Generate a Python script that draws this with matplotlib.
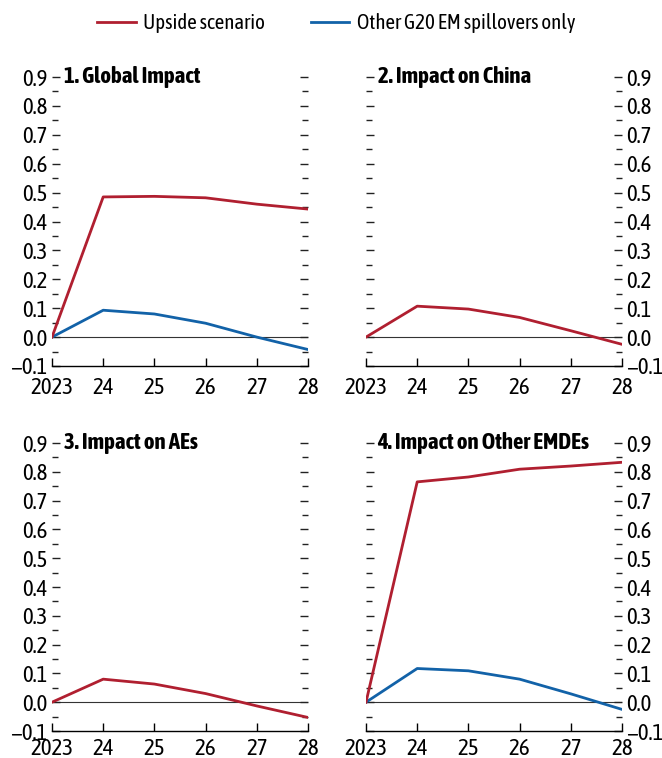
import matplotlib
matplotlib.use("Agg")
import matplotlib.pyplot as plt
from matplotlib import font_manager as fm
from matplotlib.ticker import MultipleLocator, FixedLocator
from matplotlib.lines import Line2D

# Pick a narrow face if one is installed (the original uses Arial Narrow)
fonts = fm.fontManager.ttflist
narrow = sorted({f.name for f in fonts if "Narrow" in f.name or "Condensed" in f.name})
with_bold = [n for n in narrow
             if any(f.name == n and f.weight in (600, 700, 800, "bold", "semibold")
                    for f in fonts)]
if narrow:
    plt.rcParams["font.family"] = [(with_bold or narrow)[0], "DejaVu Sans"]
    FS = 16.5
else:
    plt.rcParams["font.family"] = ["Liberation Sans", "DejaVu Sans"]
    FS = 12.5
BOLD_FAMILY = [(with_bold or narrow or ["Liberation Sans"])[0], "DejaVu Sans"]

# ── Data ──────────────────────────────────────────────────────────────────────
years = [2023, 2024, 2025, 2026, 2027, 2028]
year_labels = ["2023", "24", "25", "26", "27", "28"]

titles = ["1. Global Impact", "2. Impact on China",
          "3. Impact on AEs", "4. Impact on Other EMDEs"]

upside_global = [0.0, 0.485, 0.487, 0.482, 0.460, 0.443]
upside_china = [0.0, 0.107, 0.097, 0.068, 0.022, -0.025]
upside_aes = [0.0, 0.080, 0.063, 0.030, -0.013, -0.053]
upside_emdes = [0.0, 0.765, 0.782, 0.809, 0.820, 0.833]

spill_global = [0.0, 0.093, 0.080, 0.048, 0.0, -0.043]
spill_emdes = [0.0, 0.117, 0.109, 0.080, 0.029, -0.025]

upside = [upside_global, upside_china, upside_aes, upside_emdes]
spill = [spill_global, None, None, spill_emdes]

RED = "#B01F30"
BLUE = "#1262A8"
W, H = 662, 758

# ── Layout (pixel boxes: left, bottom, right, top) ────────────────────────────
boxes = [(52, 366, 308, 77), (366, 366, 622, 77),
         (52, 731, 308, 443), (366, 731, 622, 443)]

fig = plt.figure(figsize=(W / 100, H / 100), dpi=100)

for i, (l, b, r, t) in enumerate(boxes):
    ax = fig.add_axes([l / W, 1 - b / H, (r - l) / W, (b - t) / H])
    ax.set_xlim(2023, 2028)
    ax.set_ylim(-0.1, 0.9)
    for s in ["top", "left", "right"]:
        ax.spines[s].set_visible(False)
    ax.spines["bottom"].set_linewidth(1.0)

    ax.axhline(0, color="#333333", linewidth=0.8, zorder=1)
    if spill[i] is not None:
        ax.plot(years, spill[i], color=BLUE, linewidth=2.0, zorder=3)
    ax.plot(years, upside[i], color=RED, linewidth=2.0, zorder=4)

    ax.set_xticks(years)
    ax.set_xticklabels(year_labels)
    ax.yaxis.set_major_locator(FixedLocator([-0.1 + 0.1 * k for k in range(11)]))
    ax.yaxis.set_minor_locator(MultipleLocator(0.05))
    ax.yaxis.set_major_formatter(plt.FuncFormatter(
        lambda v, p: f"{v:.1f}".replace("-", "\u2212") if abs(v) > 1e-9 else "0.0"))

    left_labels = i in (0, 2)
    ax.tick_params(axis="y", which="both", left=True, right=True,
                   labelleft=left_labels, labelright=not left_labels,
                   direction="in", labelsize=FS, pad=3, color="#222222")
    ax.tick_params(axis="y", which="major", length=6, width=1.0)
    ax.tick_params(axis="y", which="minor", length=4, width=1.0)
    ax.tick_params(axis="x", direction="in", length=6, width=1.0,
                   labelsize=FS, pad=8 if i < 2 else 5)

    ax.text(0.045, 0.9, titles[i], transform=ax.get_yaxis_transform(),
            ha="left", va="center", fontsize=FS, fontweight="bold",
            family=BOLD_FAMILY)

# ── Legend ────────────────────────────────────────────────────────────────────
handles = [Line2D([], [], color=RED, linewidth=2.0),
           Line2D([], [], color=BLUE, linewidth=2.0)]
fig.legend(handles, ["Upside scenario", "Other G20 EM spillovers only"],
           loc="center", bbox_to_anchor=(0.508, 1 - 23 / H), ncol=2,
           frameon=False, fontsize=FS - 1.5, handlelength=1.85, handletextpad=0.35,
           columnspacing=2.2)

fig.savefig("out.png", dpi=100, facecolor="white")
